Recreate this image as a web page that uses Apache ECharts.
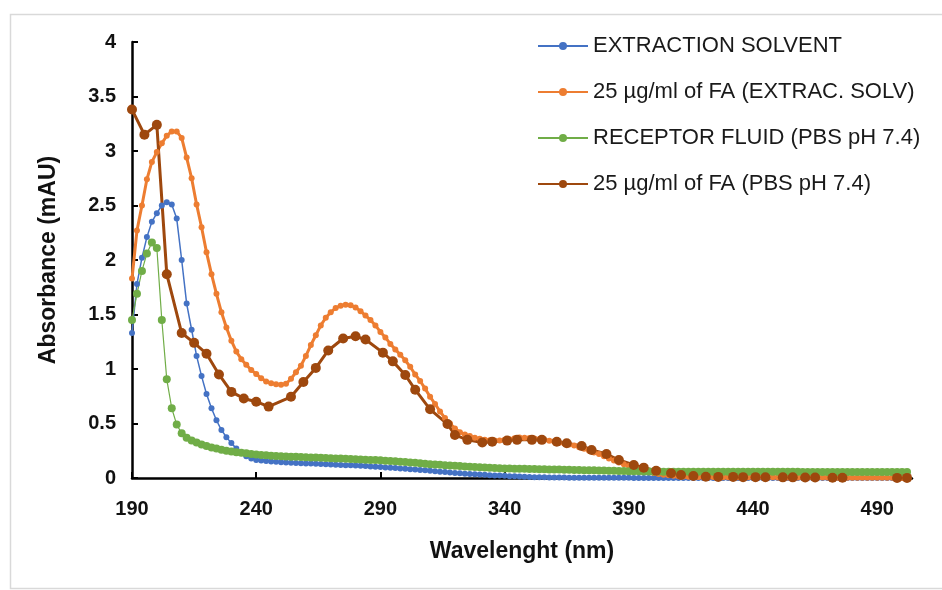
<!DOCTYPE html>
<html>
<head>
<meta charset="utf-8">
<title>Absorbance spectra</title>
<script src="https://cdn.jsdelivr.net/npm/echarts@6/dist/echarts.min.js"></script>
<style>
  html, body { margin: 0; padding: 0; background: #fff; }
  #chart { width: 942px; height: 590px; }
</style>
</head>
<body>
<div id="chart"></div>
<script>
// wavelength grid shared by the three dense series (nm)
const wavelengths = [
  190, 192, 194, 196, 198, 200, 202, 204, 206, 208,
  210, 212, 214, 216, 218, 220, 222, 224, 226, 228,
  230, 232, 234, 236, 238, 240, 242, 244, 246, 248,
  250, 252, 254, 256, 258, 260, 262, 264, 266, 268,
  270, 272, 274, 276, 278, 280, 282, 284, 286, 288,
  290, 292, 294, 296, 298, 300, 302, 304, 306, 308,
  310, 312, 314, 316, 318, 320, 322, 324, 326, 328,
  330, 332, 334, 336, 338, 340, 342, 344, 346, 348,
  350, 352, 354, 356, 358, 360, 362, 364, 366, 368,
  370, 372, 374, 376, 378, 380, 382, 384, 386, 388,
  390, 392, 394, 396, 398, 400, 402, 404, 406, 408,
  410, 412, 414, 416, 418, 420, 422, 424, 426, 428,
  430, 432, 434, 436, 438, 440, 442, 444, 446, 448,
  450, 452, 454, 456, 458, 460, 462, 464, 466, 468,
  470, 472, 474, 476, 478, 480, 482, 484, 486, 488,
  490, 492, 494, 496, 498, 500, 502
]

// EXTRACTION SOLVENT
const extractionSolvent = [
  1.33, 1.78, 2.02, 2.21, 2.35, 2.43, 2.50, 2.53, 2.51, 2.38,
  2.00, 1.60, 1.36, 1.12, 0.935, 0.77, 0.64, 0.53, 0.44, 0.375,
  0.32, 0.27, 0.23, 0.20, 0.178, 0.165, 0.16, 0.156, 0.152, 0.148,
  0.145, 0.142, 0.14, 0.138, 0.136, 0.134, 0.132, 0.13, 0.128, 0.126,
  0.124, 0.122, 0.12, 0.118, 0.116, 0.114, 0.112, 0.109, 0.106, 0.103,
  0.1, 0.097, 0.094, 0.091, 0.088, 0.085, 0.081, 0.077, 0.073, 0.07,
  0.066, 0.062, 0.058, 0.055, 0.051, 0.047, 0.044, 0.04, 0.037, 0.034,
  0.031, 0.029, 0.026, 0.024, 0.022, 0.02, 0.017, 0.015, 0.013, 0.011,
  0.009, 0.008, 0.007, 0.006, 0.005, 0.005, 0.004, 0.004, 0.003, 0.003,
  0.003, 0.002, 0.002, 0.002, 0.002, 0.002, 0.002, 0.002, 0.002, 0.002,
  0.002, 0.001, 0.001, 0.001, 0.001, 0.001, 0.001, 0.001, 0.001, 0.001,
  0.001, 0.001, 0.001, 0.001, 0.001, 0.001, 0.001, 0.001, 0.001, 0.001,
  0.001, 0.001, 0.001, 0.001, 0.001, 0.001, 0.001, 0.001, 0.001, 0.001,
  0.001, 0.001, 0.001, 0.001, 0.001, 0.001, 0.001, 0.001, 0.001, 0.001,
  0, 0, 0, 0, 0, 0, 0, 0, 0, 0,
  0, 0, 0, 0, 0, 0, 0
]

// 25 µg/ml of FA (EXTRAC. SOLV)
const faExtraction = [
  1.83, 2.27, 2.50, 2.74, 2.90, 2.99, 3.07, 3.14, 3.18, 3.18,
  3.12, 2.94, 2.75, 2.51, 2.30, 2.07, 1.87, 1.69, 1.52, 1.38,
  1.26, 1.16, 1.09, 1.04, 0.99, 0.955, 0.915, 0.885, 0.87, 0.86,
  0.855, 0.865, 0.91, 0.97, 1.03, 1.12, 1.22, 1.31, 1.40, 1.47,
  1.52, 1.56, 1.58, 1.59, 1.585, 1.565, 1.53, 1.49, 1.45, 1.40,
  1.34, 1.29, 1.23, 1.18, 1.13, 1.08, 1.02, 0.95, 0.89, 0.82,
  0.745, 0.68, 0.61, 0.55, 0.50, 0.455, 0.42, 0.40, 0.385, 0.37,
  0.36, 0.352, 0.346, 0.343, 0.345, 0.35, 0.356, 0.365, 0.372, 0.37,
  0.366, 0.362, 0.356, 0.35, 0.342, 0.333, 0.324, 0.316, 0.308, 0.298,
  0.283, 0.268, 0.25, 0.235, 0.22, 0.2, 0.18, 0.16, 0.143, 0.127,
  0.11, 0.095, 0.08, 0.07, 0.058, 0.046, 0.037, 0.03, 0.025, 0.02,
  0.016, 0.013, 0.012, 0.011, 0.01, 0.01, 0.009, 0.009, 0.008, 0.008,
  0.008, 0.007, 0.007, 0.007, 0.007, 0.006, 0.006, 0.006, 0.006, 0.006,
  0.005, 0.005, 0.005, 0.005, 0.005, 0.005, 0.004, 0.004, 0.004, 0.004,
  0.004, 0.004, 0.003, 0.003, 0.003, 0.003, 0.003, 0.003, 0.003, 0.002,
  0.002, 0.002, 0.002, 0.002, 0.002, 0.001, 0.001
]

// RECEPTOR FLUID (PBS pH 7.4)
const receptorFluid = [
  1.45, 1.69, 1.90, 2.06, 2.16, 2.11, 1.45, 0.905, 0.64, 0.49,
  0.41, 0.37, 0.345, 0.325, 0.308, 0.293, 0.28, 0.27, 0.26, 0.25,
  0.243, 0.237, 0.231, 0.226, 0.221, 0.216, 0.212, 0.208, 0.205, 0.202,
  0.2, 0.198, 0.196, 0.194, 0.192, 0.19, 0.189, 0.188, 0.186, 0.184,
  0.182, 0.18, 0.178, 0.176, 0.174, 0.172, 0.17, 0.168, 0.166, 0.164,
  0.162, 0.159, 0.156, 0.153, 0.15, 0.147, 0.143, 0.139, 0.135, 0.131,
  0.127, 0.124, 0.121, 0.118, 0.115, 0.112, 0.109, 0.106, 0.103, 0.1,
  0.098, 0.096, 0.094, 0.092, 0.09, 0.088, 0.087, 0.086, 0.085, 0.084,
  0.083, 0.082, 0.081, 0.08, 0.079, 0.078, 0.077, 0.076, 0.075, 0.074,
  0.073, 0.072, 0.071, 0.07, 0.069, 0.068, 0.067, 0.066, 0.065, 0.064,
  0.063, 0.062, 0.061, 0.06, 0.06, 0.059, 0.059, 0.058, 0.058, 0.058,
  0.058, 0.058, 0.058, 0.058, 0.058, 0.058, 0.057, 0.057, 0.057, 0.057,
  0.057, 0.057, 0.057, 0.057, 0.057, 0.057, 0.057, 0.057, 0.057, 0.057,
  0.057, 0.057, 0.057, 0.057, 0.057, 0.056, 0.056, 0.056, 0.056, 0.056,
  0.056, 0.056, 0.056, 0.056, 0.056, 0.056, 0.056, 0.056, 0.056, 0.056,
  0.056, 0.056, 0.056, 0.056, 0.056, 0.056, 0.056
]

// 25 µg/ml of FA (PBS pH 7.4) - sampled more sparsely
const faPbsWavelengths = [
  190, 195, 200, 204, 210, 215, 220, 225, 230, 235,
  240, 245, 254, 259, 264, 269, 275, 280, 284, 291,
  295, 300, 304, 310, 317, 320, 325, 331, 335, 341,
  345, 351, 355, 361, 365, 371, 375, 381, 386, 392,
  396, 401, 407, 411, 416, 421, 426, 432, 436, 441,
  445, 452, 456, 461, 465, 472, 476, 498, 502
]
const faPbs = [
  3.38, 3.15, 3.24, 1.87, 1.33, 1.24, 1.14, 0.95, 0.79, 0.73,
  0.70, 0.655, 0.745, 0.88, 1.01, 1.17, 1.28, 1.30, 1.27, 1.15,
  1.07, 0.945, 0.81, 0.63, 0.495, 0.395, 0.35, 0.325, 0.333, 0.343,
  0.35, 0.35, 0.35, 0.333, 0.318, 0.294, 0.257, 0.22, 0.165, 0.12,
  0.095, 0.067, 0.043, 0.028, 0.018, 0.012, 0.01, 0.01, 0.008, 0.008,
  0.007, 0.006, 0.006, 0.005, 0.005, 0.002, 0.002, 0.001, 0.001
]

const xTicks = [190, 240, 290, 340, 390, 440, 490]

const pairs = (xs, ys) => xs.map((x, i) => [x, ys[i]])

const chart = echarts.init(document.getElementById('chart'))

const axisFont = {
  color: '#111',
  fontFamily: 'Liberation Sans, Arial, sans-serif',
  fontWeight: 'bold',
  fontSize: 20
}

const option = {
  animation: false,
  backgroundColor: '#fff',
  // light grey chart frame like the Excel chart area
  graphic: [{
    type: 'rect',
    left: 8,
    top: 12,
    shape: { width: 960, height: 574 },
    style: { fill: 'none', stroke: '#d9d9d9', lineWidth: 1.5 },
    z: -1
  }],
  grid: {
    left: 132,
    right: 30,
    top: 42,
    bottom: 112
  },
  legend: {
    orient: 'vertical',
    left: 532,
    top: 30,
    itemWidth: 50,
    itemHeight: 10,
    itemGap: 24,
    textStyle: {
      color: '#1a1a1a',
      fontFamily: 'Liberation Sans, Arial, sans-serif',
      fontSize: 22
    }
  },
  xAxis: {
    type: 'value',
    min: 190,
    max: 504,
    interval: 50,
    name: 'Wavelenght (nm)',
    nameLocation: 'middle',
    nameGap: 62,
    nameTextStyle: Object.assign({}, axisFont, { fontSize: 23 }),
    axisLine: { onZero: false, lineStyle: { color: '#000', width: 2.5 } },
    axisTick: { inside: true, length: 6, customValues: xTicks, lineStyle: { color: '#000', width: 2 } },
    axisLabel: Object.assign({ margin: 21, customValues: xTicks }, axisFont),
    splitLine: { show: false }
  },
  yAxis: {
    type: 'value',
    min: 0,
    max: 4,
    interval: 0.5,
    name: 'Absorbance (mAU)',
    nameLocation: 'middle',
    nameGap: 72,
    nameTextStyle: Object.assign({}, axisFont, { fontSize: 23 }),
    axisLine: { show: true, lineStyle: { color: '#000', width: 2.5 } },
    axisTick: { show: true, inside: true, length: 6, lineStyle: { color: '#000', width: 2 } },
    axisLabel: Object.assign({ margin: 16 }, axisFont),
    splitLine: { show: false }
  },
  series: [
    {
      name: 'EXTRACTION SOLVENT',
      type: 'line',
      data: pairs(wavelengths, extractionSolvent),
      symbol: 'circle',
      symbolSize: 6,
      color: '#4472C4',
      lineStyle: { width: 1.5 }
    },
    {
      name: '25 µg/ml of FA (EXTRAC. SOLV)',
      type: 'line',
      data: pairs(wavelengths, faExtraction),
      symbol: 'circle',
      symbolSize: 6,
      color: '#ED7D31',
      lineStyle: { width: 3 }
    },
    {
      name: 'RECEPTOR FLUID (PBS pH 7.4)',
      type: 'line',
      data: pairs(wavelengths, receptorFluid),
      symbol: 'circle',
      symbolSize: 8,
      color: '#70AD47',
      lineStyle: { width: 1.2 }
    },
    {
      name: '25 µg/ml of FA (PBS pH 7.4)',
      type: 'line',
      data: pairs(faPbsWavelengths, faPbs),
      symbol: 'circle',
      symbolSize: 10,
      color: '#9E480E',
      lineStyle: { width: 3 }
    }
  ]
}

chart.setOption(option)
</script>
</body>
</html>
